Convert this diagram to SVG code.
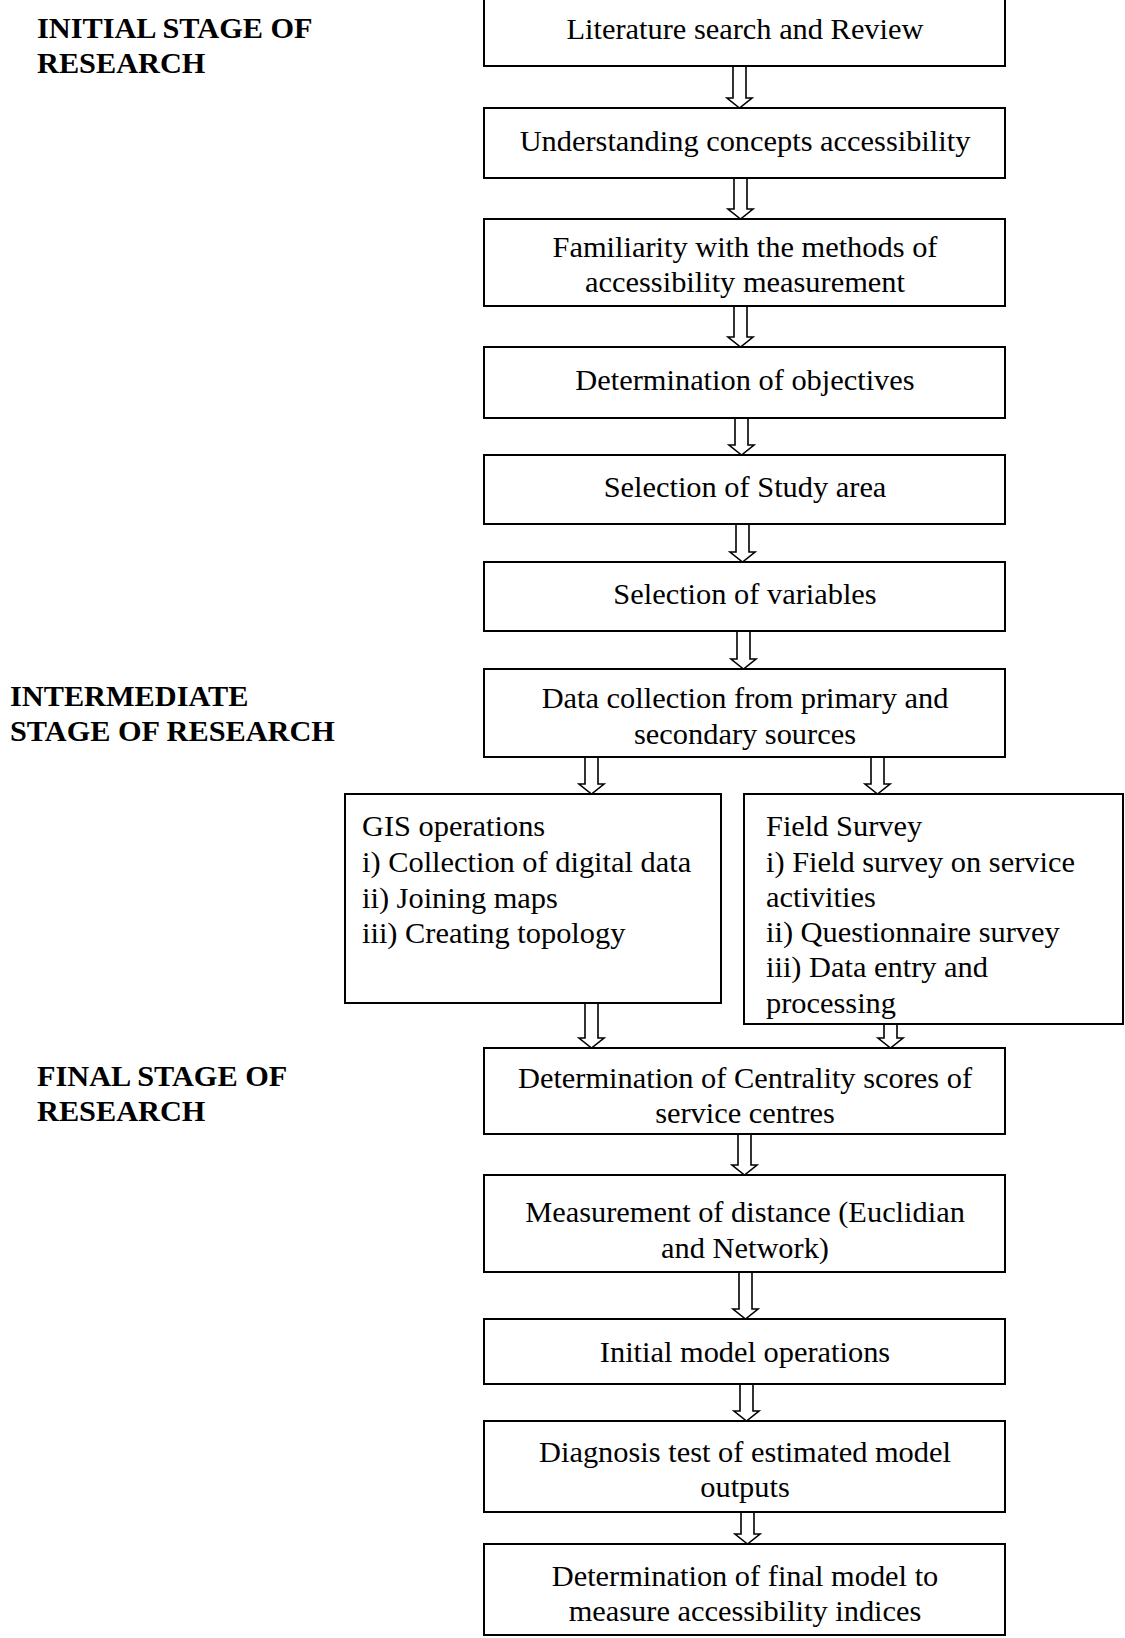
<svg xmlns="http://www.w3.org/2000/svg" width="1125" height="1638" viewBox="0 0 1125 1638">
<style>
.box{fill:#fff;stroke:#000;stroke-width:2}
.t{font-family:"Liberation Serif","Times New Roman",serif;font-size:30.4px;fill:#000}
.c{text-anchor:middle}
.lbl{font-family:"Liberation Serif","Times New Roman",serif;font-size:30.3px;font-weight:bold;fill:#000}
.arr{fill:#fff;stroke:#000;stroke-width:1.6;stroke-linejoin:miter}
</style>
<rect width="1125" height="1638" fill="#fff"/>
<g id="labels">
<text class="lbl" x="37" y="38">INITIAL STAGE OF</text>
<text class="lbl" x="37" y="73">RESEARCH</text>
<text class="lbl" x="10" y="706">INTERMEDIATE</text>
<text class="lbl" x="10" y="741">STAGE OF RESEARCH</text>
<text class="lbl" x="37" y="1086">FINAL STAGE OF</text>
<text class="lbl" x="37" y="1121">RESEARCH</text>
</g>
<g id="connectors">
<polygon class="arr" points="733,66 746,66 746,98 752,98 739.5,108 727,98 733,98"/>
<polygon class="arr" points="734,178 747,178 747,209 753,209 740.5,219 728,209 734,209"/>
<polygon class="arr" points="734,306 747,306 747,337 753,337 740.5,347 728,337 734,337"/>
<polygon class="arr" points="735,418 748,418 748,445 754,445 741.5,455 729,445 735,445"/>
<polygon class="arr" points="736,524 749,524 749,552 755,552 742.5,562 730,552 736,552"/>
<polygon class="arr" points="737,631 750,631 750,659 756,659 743.5,669 731,659 737,659"/>
<polygon class="arr" points="585,757 598,757 598,784 604,784 591.5,794 579,784 585,784"/>
<polygon class="arr" points="871,757 884,757 884,784 890,784 877.5,794 865,784 871,784"/>
<polygon class="arr" points="585,1003 598,1003 598,1038 604,1038 591.5,1048 579,1038 585,1038"/>
<polygon class="arr" points="884,1024 897,1024 897,1038 903,1038 890.5,1048 878,1038 884,1038"/>
<polygon class="arr" points="738,1134 751,1134 751,1165 757,1165 744.5,1175 732,1165 738,1165"/>
<polygon class="arr" points="739,1272 752,1272 752,1309 758,1309 745.5,1319 733,1309 739,1309"/>
<polygon class="arr" points="740,1384 753,1384 753,1411 759,1411 746.5,1421 734,1411 740,1411"/>
<polygon class="arr" points="741,1512 754,1512 754,1534 760,1534 747.5,1544 735,1534 741,1534"/>
</g>
<g id="n1"><rect class="box" x="484" y="-2" width="521" height="68"/>
<text class="t c" x="745" y="39">Literature search and Review</text></g>
<g id="n2"><rect class="box" x="484" y="108" width="521" height="70"/>
<text class="t c" x="745" y="151">Understanding concepts accessibility</text></g>
<g id="n3"><rect class="box" x="484" y="219" width="521" height="87"/>
<text class="t c" x="745" y="257">Familiarity with the methods of</text>
<text class="t c" x="745" y="292">accessibility measurement</text></g>
<g id="n4"><rect class="box" x="484" y="347" width="521" height="71"/>
<text class="t c" x="745" y="390">Determination of objectives</text></g>
<g id="n5"><rect class="box" x="484" y="455" width="521" height="69"/>
<text class="t c" x="745" y="497">Selection of Study area</text></g>
<g id="n6"><rect class="box" x="484" y="562" width="521" height="69"/>
<text class="t c" x="745" y="604">Selection of variables</text></g>
<g id="n7"><rect class="box" x="484" y="669" width="521" height="88"/>
<text class="t c" x="745" y="708">Data collection from primary and</text>
<text class="t c" x="745" y="744">secondary sources</text></g>
<g id="gis"><rect class="box" x="345" y="794" width="376" height="209"/>
<text class="t" x="362" y="836">GIS operations</text>
<text class="t" x="362" y="872">i) Collection of digital data</text>
<text class="t" x="362" y="908">ii) Joining maps</text>
<text class="t" x="362" y="943">iii) Creating topology</text></g>
<g id="field"><rect class="box" x="744" y="794" width="379" height="230"/>
<text class="t" x="766" y="836">Field Survey</text>
<text class="t" x="766" y="872">i) Field survey on service</text>
<text class="t" x="766" y="907">activities</text>
<text class="t" x="766" y="942">ii) Questionnaire survey</text>
<text class="t" x="766" y="977">iii) Data entry and</text>
<text class="t" x="766" y="1013">processing</text></g>
<g id="n8"><rect class="box" x="484" y="1048" width="521" height="86"/>
<text class="t c" x="745" y="1088">Determination of Centrality scores of</text>
<text class="t c" x="745" y="1123">service centres</text></g>
<g id="n9"><rect class="box" x="484" y="1175" width="521" height="97"/>
<text class="t c" x="745" y="1222">Measurement of distance (Euclidian</text>
<text class="t c" x="745" y="1258">and Network)</text></g>
<g id="n10"><rect class="box" x="484" y="1319" width="521" height="65"/>
<text class="t c" x="745" y="1362">Initial model operations</text></g>
<g id="n11"><rect class="box" x="484" y="1421" width="521" height="91"/>
<text class="t c" x="745" y="1462">Diagnosis test of estimated model</text>
<text class="t c" x="745" y="1497">outputs</text></g>
<g id="n12"><rect class="box" x="484" y="1544" width="521" height="91"/>
<text class="t c" x="745" y="1586">Determination of final model to</text>
<text class="t c" x="745" y="1621">measure accessibility indices</text></g>
</svg>
